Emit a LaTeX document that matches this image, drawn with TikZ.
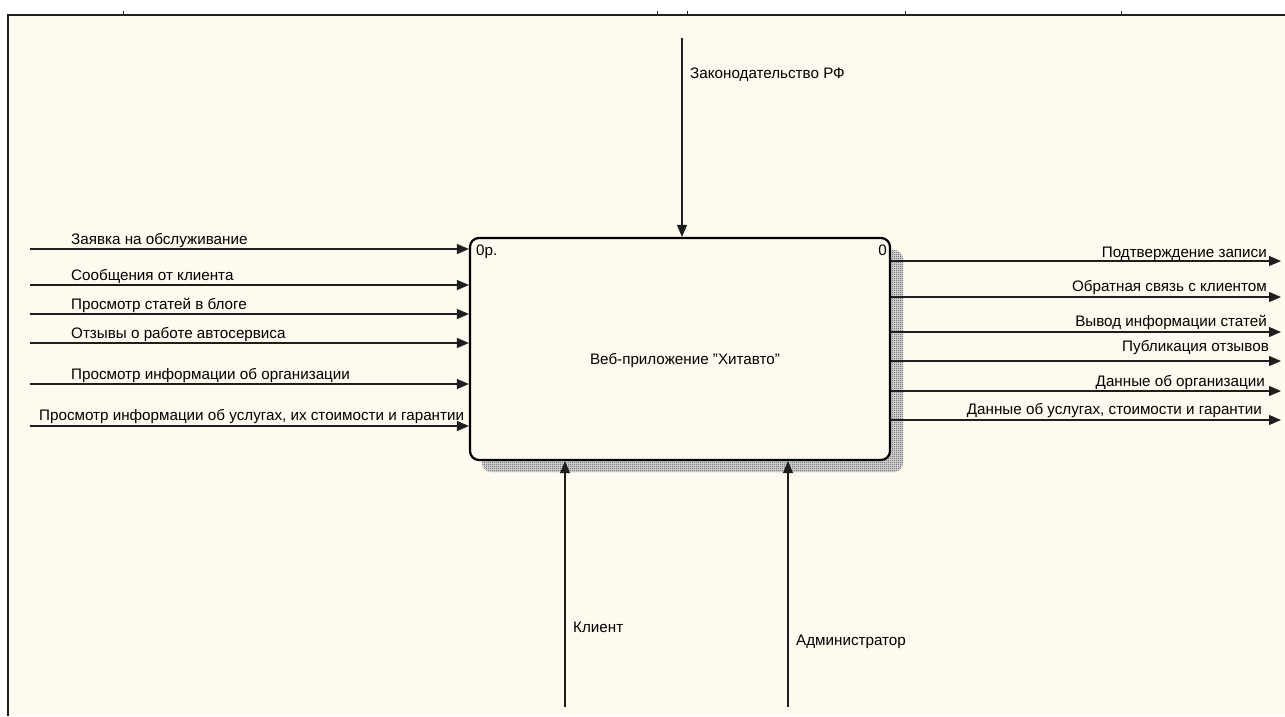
\documentclass[tikz,border=0pt]{standalone}
\usepackage{fontspec}
\setmainfont{Liberation Sans}
\usetikzlibrary{arrows.meta,patterns}
\definecolor{paper}{RGB}{255,250,240}
\definecolor{ink}{RGB}{30,30,30}
% fine two-pixel checker for the box shadow
\pgfdeclarepatternformonly{idefshade}{\pgfpointorigin}{\pgfqpoint{2pt}{2pt}}{\pgfqpoint{2pt}{2pt}}{%
  \pgfpathrectangle{\pgfpointorigin}{\pgfqpoint{1pt}{1pt}}%
  \pgfpathrectangle{\pgfqpoint{1pt}{1pt}}{\pgfqpoint{1pt}{1pt}}%
  \pgfusepath{fill}}

\begin{document}
\begin{tikzpicture}[x=1pt,y=-1pt,
	arr/.style={ink, line width=1.2pt, -{Triangle[length=12pt,width=10pt]}},
	lbl/.style={inner sep=0pt, text=black, font=\fontsize{15.2}{17}\selectfont},
	fnbox/.style={draw=black, line width=2.2pt, fill=paper, rounded corners=9pt,
		minimum width=420pt, minimum height=222pt, inner sep=0pt}]
	\useasboundingbox (0,0) rectangle (1285,716);
	% sheet and frame
	\fill[white] (0,0) rectangle (1285,716);
	\fill[paper] (8,15) rectangle (1285,716);
	\draw[ink, line width=1.5pt] (8,716) -- (8,15) -- (1285,15);
	\draw[ink, line width=1pt] (123,11) -- (123,15)  (657,11) -- (657,15)  (687,11) -- (687,15)
		(905,11) -- (905,15)  (1121,11) -- (1121,15);
	% shadow, then the function box
	\fill[black!12, rounded corners=9pt] (482,250) rectangle (903,472);
	\fill[pattern=idefshade, pattern color=black!75, rounded corners=9pt] (482,250) rectangle (903,472);
	\node[fnbox] (fn) at (680,349) {};
	\node[lbl, anchor=base west] (fnnum) at (476,255) {0р.};
	\node[lbl, anchor=base east] (fnnode) at (887,255) {0};
	\node[lbl] (fntitle) at (685,360) {Веб-приложение "Хитавто"};
	% inputs
	\coordinate (in1) at (30,249);
	\coordinate (in2) at (30,285);
	\coordinate (in3) at (30,314);
	\coordinate (in4) at (30,343);
	\coordinate (in5) at (30,384);
	\coordinate (in6) at (30,426);
	\draw[arr] (in1) -- (in1 -| fn.west);
	\draw[arr] (in2) -- (in2 -| fn.west);
	\draw[arr] (in3) -- (in3 -| fn.west);
	\draw[arr] (in4) -- (in4 -| fn.west);
	\draw[arr] (in5) -- (in5 -| fn.west);
	\draw[arr] (in6) -- (in6 -| fn.west);
	\node[lbl, anchor=base west] (tin1) at (71,244) {Заявка на обслуживание};
	\node[lbl, anchor=base west] (tin2) at (71,280) {Сообщения от клиента};
	\node[lbl, anchor=base west] (tin3) at (71,309) {Просмотр статей в блоге};
	\node[lbl, anchor=base west] (tin4) at (71,338) {Отзывы о работе автосервиса};
	\node[lbl, anchor=base west] (tin5) at (71,379) {Просмотр информации об организации};
	\node[lbl, anchor=base west] (tin6) at (39,420) {Просмотр информации об услугах, их стоимости и гарантии};
	% outputs
	\coordinate (out1) at (1281,261);
	\coordinate (out2) at (1281,297);
	\coordinate (out3) at (1281,332);
	\coordinate (out4) at (1281,361);
	\coordinate (out5) at (1281,391);
	\coordinate (out6) at (1281,420);
	\draw[arr] (out1 -| fn.east) -- (out1);
	\draw[arr] (out2 -| fn.east) -- (out2);
	\draw[arr] (out3 -| fn.east) -- (out3);
	\draw[arr] (out4 -| fn.east) -- (out4);
	\draw[arr] (out5 -| fn.east) -- (out5);
	\draw[arr] (out6 -| fn.east) -- (out6);
	\node[lbl, anchor=base east] (tout1) at (1267,257) {Подтверждение записи};
	\node[lbl, anchor=base east] (tout2) at (1267,291) {Обратная связь с клиентом};
	\node[lbl, anchor=base east] (tout3) at (1267,326) {Вывод информации статей};
	\node[lbl, anchor=base east] (tout4) at (1269,351) {Публикация отзывов};
	\node[lbl, anchor=base east] (tout5) at (1265,386) {Данные об организации};
	\node[lbl, anchor=base east] (tout6) at (1262,414) {Данные об услугах, стоимости и гарантии};
	% control
	\coordinate (law) at (682,38);
	\draw[arr] (law) -- (law |- fn.north);
	\node[lbl, anchor=base west] (tlaw) at (690,78) {Законодательство РФ};
	% mechanisms
	\coordinate (cli) at (565,707);
	\coordinate (adm) at (788,707);
	\draw[arr] (cli) -- (cli |- fn.south);
	\draw[arr] (adm) -- (adm |- fn.south);
	\node[lbl, anchor=base west] (tcli) at (573,632) {Клиент};
	\node[lbl, anchor=base west] (tadm) at (796,645) {Администратор};
\end{tikzpicture}
\end{document}
